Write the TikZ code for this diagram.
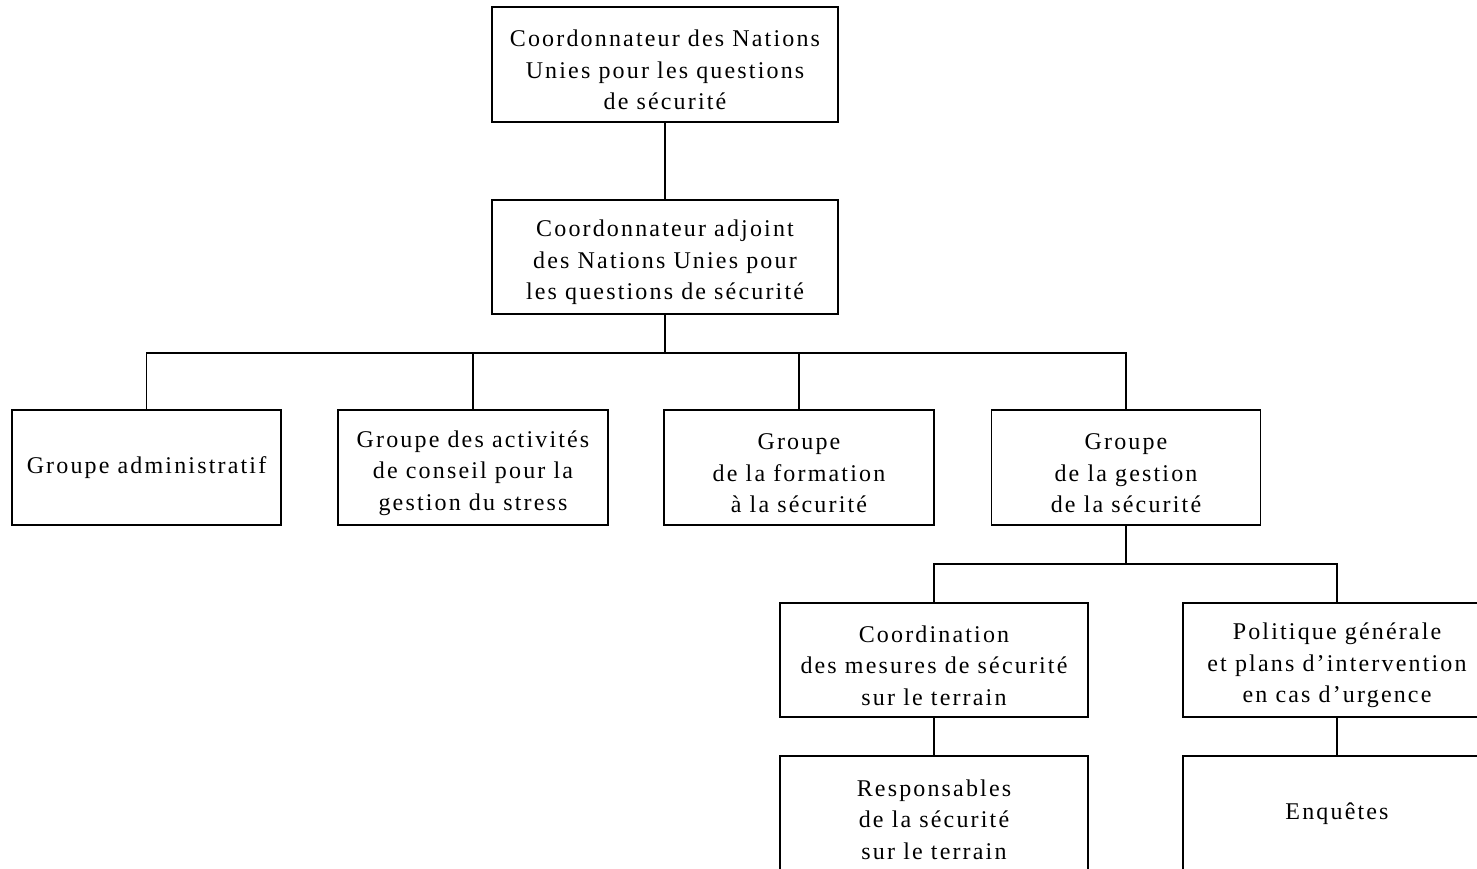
\documentclass[tikz,border=0pt]{standalone}
\usepackage{fontspec}
\setmainfont{Liberation Serif}[LetterSpace=9]
\newcommand{\tstrut}{\rule{0pt}{28pt}}
\begin{document}
\begin{tikzpicture}[x=1pt,y=-1pt,
  box/.style={draw,line width=1.6pt,align=center,inner sep=0pt,
    font=\fontsize{24}{31.5}\selectfont},
  conn/.style={line width=1.6pt}]
\useasboundingbox (0,0) rectangle (1477,869);
\clip (0,0) rectangle (1477,869);
\node[box,minimum width=346pt,minimum height=115pt] (top) at (665,64.5) {\tstrut Coordonnateur des Nations\\Unies pour les questions\\de sécurité};
\node[box,minimum width=346pt,minimum height=114pt] (dep) at (665,257) {\tstrut Coordonnateur adjoint\\des Nations Unies pour\\les questions de sécurité};
\node[box,minimum width=269pt,minimum height=115pt] (adm) at (146.5,467.5) {Groupe administratif};
\node[box,minimum width=270pt,minimum height=115pt] (str) at (473,467.5) {\tstrut Groupe des activités\\de conseil pour la\\gestion du stress};
\node[box,minimum width=270pt,minimum height=115pt] (for) at (799,467.5) {\tstrut Groupe\\de la formation\\à la sécurité};
\node[box,minimum width=269pt,minimum height=115pt] (ges) at (1126,467.5) {\tstrut Groupe\\de la gestion\\de la sécurité};
\node[box,minimum width=308pt,minimum height=114pt] (coo) at (934,660) {\tstrut Coordination\\des mesures de sécurité\\sur le terrain};
\node[box,minimum width=308pt,minimum height=114pt] (pol) at (1337,660) {\tstrut Politique générale\\et plans d’intervention\\en cas d’urgence};
\node[box,minimum width=308pt,minimum height=116pt] (res) at (934,814) {\tstrut Responsables\\de la sécurité\\sur le terrain};
\node[box,minimum width=308pt,minimum height=116pt] (enq) at (1337,814) {Enquêtes};
\coordinate (b1) at (665,353);
\coordinate (b2) at (1126,564);
\draw[conn] (top) -- (dep);
\draw[conn] (dep.south) -- (b1);
\draw[conn] (adm.north) |- (b1) -| (ges.north);
\draw[conn] (str.north) -- (str.north |- b1);
\draw[conn] (for.north) -- (for.north |- b1);
\draw[conn] (ges.south) -- (b2);
\draw[conn] (coo.north) |- (b2) -| (pol.north);
\draw[conn] (coo) -- (res);
\draw[conn] (pol) -- (enq);
\end{tikzpicture}
\end{document}
